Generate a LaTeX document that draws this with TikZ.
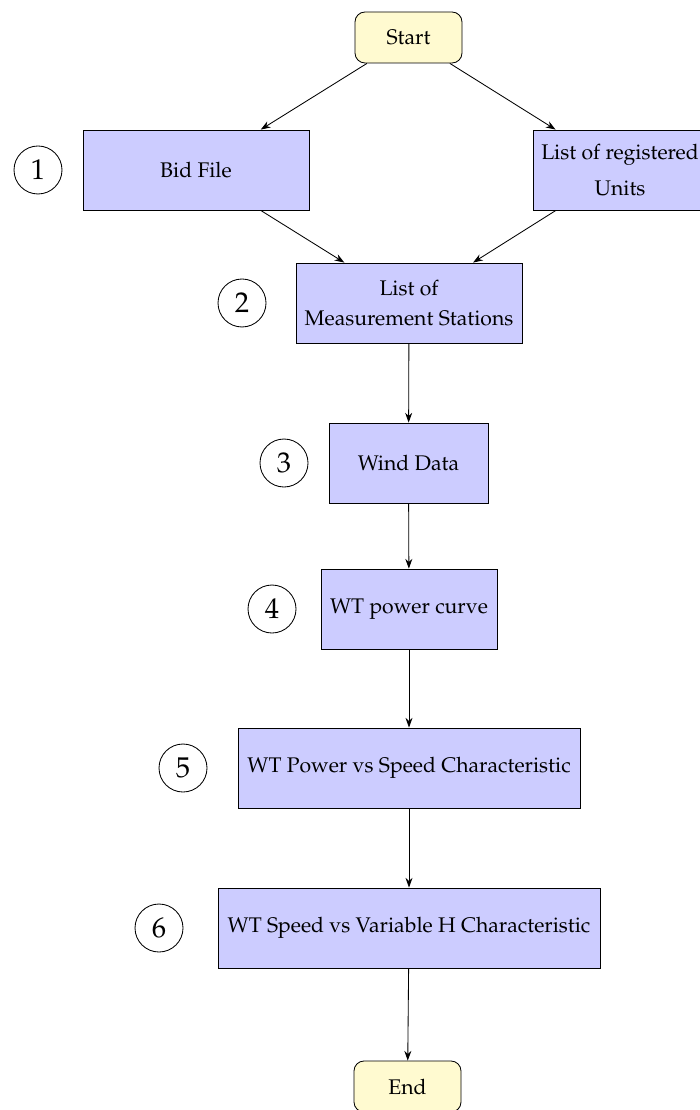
\documentclass[tikz,border=0pt]{standalone}
\usepackage[T1]{fontenc}
\usepackage{mathpazo}
\usetikzlibrary{arrows.meta}
\newcommand{\px}{0.472pt}
\definecolor{termfill}{RGB}{255,250,208}
\definecolor{boxfill}{RGB}{204,204,255}
\begin{document}
\begin{tikzpicture}[x=0.472pt,y=-0.472pt,
  box/.style={draw, fill=boxfill, minimum height=80*\px, align=center, inner sep=0pt},
  term/.style={draw, fill=termfill, rounded corners=4.7pt, minimum width=107*\px, minimum height=51*\px, inner sep=0pt},
  num/.style={draw, circle, minimum size=48*\px, inner sep=0pt, font=\fontsize{13.5pt}{16pt}\selectfont},
  arr/.style={-{Stealth[length=4.6pt,width=3.3pt]}, line width=0.4pt}]
\useasboundingbox (0,0) rectangle (699,1110);
\node[term] (start) at (408.5,37.5) {Start};
\node[box, minimum width=226*\px] (bid) at (196,170) {Bid File};
\node[box, minimum width=174*\px] (reg) at (620,170) {List of registered\\[5pt]Units};
\node[box, minimum width=226*\px] (meas) at (409,303) {List of\\[2pt]Measurement Stations};
\node[box, minimum width=159*\px] (wind) at (408.5,463) {Wind Data};
\node[box, minimum width=176*\px] (pc) at (409,609) {WT power curve};
\node[box, minimum width=342*\px] (pvs) at (409,768) {WT Power vs Speed Characteristic};
\node[box, minimum width=382*\px] (svh) at (409,928) {WT Speed vs Variable H Characteristic};
\node[term] (end) at (407.5,1086.5) {End};
\node[num] (n1) at (38,170) {1};
\node[num] (n2) at (242,303) {2};
\node[num] (n3) at (284,463) {3};
\node[num] (n4) at (272,609) {4};
\node[num] (n5) at (183,768) {5};
\node[num] (n6) at (159,928) {6};
\draw[arr] (start) -- (bid);
\draw[arr] (start) -- (reg);
\draw[arr] (bid) -- (meas);
\draw[arr] (reg) -- (meas);
\draw[arr] (meas) -- (wind);
\draw[arr] (wind) -- (pc);
\draw[arr] (pc) -- (pvs);
\draw[arr] (pvs) -- (svh);
\draw[arr] (svh) -- (end);
\end{tikzpicture}
\end{document}
